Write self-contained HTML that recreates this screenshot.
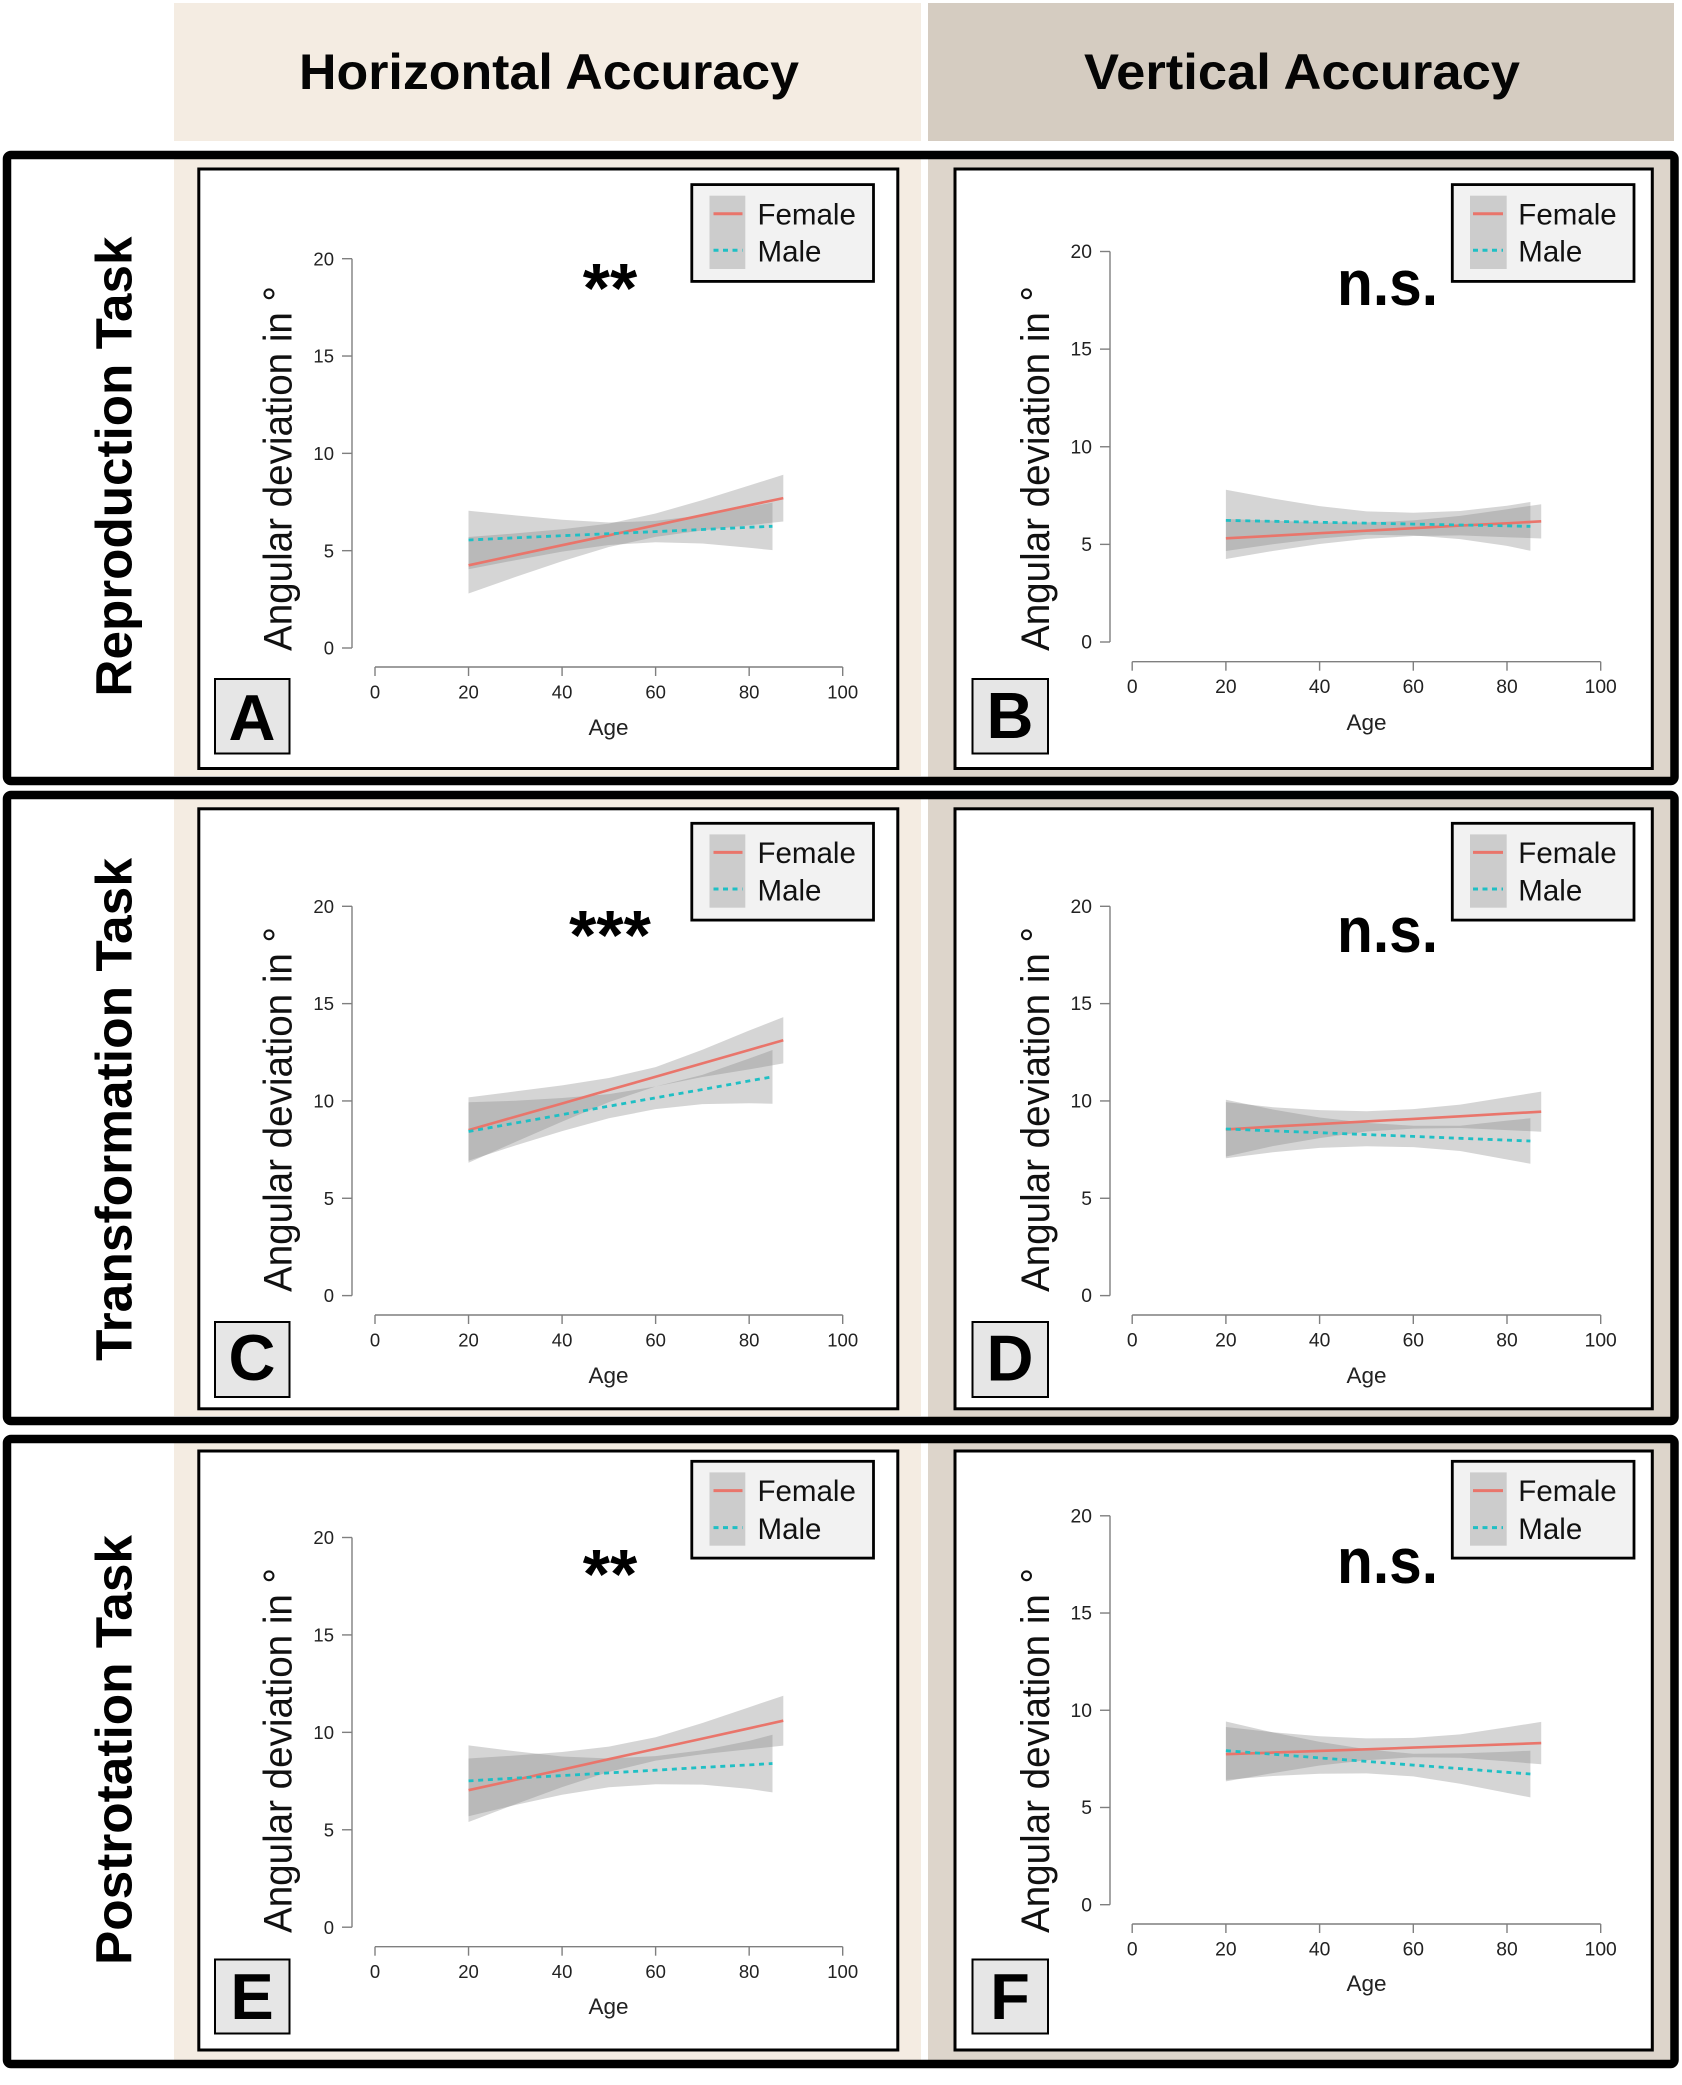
<!DOCTYPE html>
<html>
<head>
<meta charset="utf-8">
<title>Angular deviation by age and sex</title>
<style>
html,body{margin:0;padding:0;background:#fff;}
svg{display:block;font-family:"Liberation Sans",sans-serif;}
.hd{font-weight:700;font-size:50px;fill:#050505;}
.row{font-weight:700;font-size:51px;fill:#000;}
.yt{font-size:40px;fill:#111;}
.lg{font-size:29.5px;fill:#111;}
.ltr{font-weight:700;font-size:65px;fill:#000;text-anchor:middle;}
.ns{font-weight:700;font-size:64px;fill:#000;}
.st{font-weight:700;font-size:70px;fill:#000;text-anchor:middle;}
.age{font-size:22.5px;fill:#222;text-anchor:middle;}
</style>
</head>
<body>
<svg id="figure" xmlns="http://www.w3.org/2000/svg" width="1682" height="2085" viewBox="0 0 1682 2085">
  <rect width="1682" height="2085" fill="#fff"/>

  <rect x="174" y="3" width="747" height="138" fill="#F4ECE2"/>
  <rect x="928" y="3" width="746" height="138" fill="#D5CCC1"/>
  <text class="hd" x="299" y="89" textLength="500" lengthAdjust="spacingAndGlyphs">Horizontal Accuracy</text>
  <text class="hd" x="1084" y="89" textLength="436" lengthAdjust="spacingAndGlyphs">Vertical Accuracy</text>

  <rect x="174" y="159" width="747" height="617" fill="#F4ECE2"/>
  <rect x="928" y="159" width="744" height="619" fill="#DDD5CB"/>
  <rect x="174" y="799" width="747" height="617" fill="#F4ECE2"/>
  <rect x="928" y="799" width="744" height="619" fill="#DDD5CB"/>
  <rect x="174" y="1443" width="747" height="617" fill="#F4ECE2"/>
  <rect x="928" y="1443" width="744" height="618" fill="#DDD5CB"/>

  <rect x="7" y="155" width="1667.5" height="626" rx="4" fill="none" stroke="#000" stroke-width="8.5"/>
  <rect x="7" y="795" width="1667.5" height="626" rx="4" fill="none" stroke="#000" stroke-width="8.5"/>
  <rect x="7" y="1439" width="1667.5" height="625" rx="4" fill="none" stroke="#000" stroke-width="8.5"/>

  <text class="row" transform="translate(131.5,696.5) rotate(-90)" textLength="460" lengthAdjust="spacingAndGlyphs">Reproduction Task</text>
  <text class="row" transform="translate(131.5,1361) rotate(-90)" textLength="503" lengthAdjust="spacingAndGlyphs">Transformation Task</text>
  <text class="row" transform="translate(131.5,1965) rotate(-90)" textLength="430" lengthAdjust="spacingAndGlyphs">Postrotation Task</text>

  <!-- Panel A -->
  <g>
    <rect x="198.8" y="169" width="699" height="599.5" fill="#fff" stroke="#000" stroke-width="3"/>
    <g id="plot-a"></g>
    <g transform="translate(690.5,183.3)">
      <rect x="1.3" y="1.3" width="181.7" height="96.8" fill="#F2F2F2" stroke="#000" stroke-width="2.8"/>
      <rect x="19" y="12.4" width="35.8" height="73.3" fill="#CCCCCC"/>
      <line x1="23" x2="52" y1="30.4" y2="30.4" stroke="#E9756B" stroke-width="3"/>
      <line x1="23" x2="52" y1="67" y2="67" stroke="#1FBFC4" stroke-width="3" stroke-dasharray="5 4.5"/>
      <text class="lg" x="67" y="41">Female</text>
      <text class="lg" x="67" y="78.4">Male</text>
    </g>
    <text class="yt" transform="translate(291.7,651) rotate(-90)" textLength="365" lengthAdjust="spacingAndGlyphs">Angular deviation in °</text>
    <text class="age" x="608.5" y="735">Age</text>
    <text class="st" x="610" y="312">**</text>
    <rect x="215" y="679" width="74.5" height="74.5" fill="#E6E6E6" stroke="#000" stroke-width="2"/>
    <text class="ltr" x="252" y="740">A</text>
  </g>

  <!-- Panel B -->
  <g>
    <rect x="955" y="169" width="697.3" height="599.5" fill="#fff" stroke="#000" stroke-width="3"/>
    <g id="plot-b"></g>
    <g transform="translate(1451,183.3)">
      <rect x="1.3" y="1.3" width="181.7" height="96.8" fill="#F2F2F2" stroke="#000" stroke-width="2.8"/>
      <rect x="19" y="12.4" width="36.7" height="73.3" fill="#CCCCCC"/>
      <line x1="22" x2="52" y1="30.4" y2="30.4" stroke="#E9756B" stroke-width="3"/>
      <line x1="22" x2="52" y1="67" y2="67" stroke="#1FBFC4" stroke-width="3" stroke-dasharray="5 4.5"/>
      <text class="lg" x="67.3" y="41">Female</text>
      <text class="lg" x="67.3" y="78.4">Male</text>
    </g>
    <text class="yt" transform="translate(1049,651) rotate(-90)" textLength="365" lengthAdjust="spacingAndGlyphs">Angular deviation in °</text>
    <text class="age" x="1366.5" y="730">Age</text>
    <text class="ns" x="1337" y="305" textLength="101" lengthAdjust="spacingAndGlyphs">n.s.</text>
    <rect x="972.5" y="679" width="75.5" height="74.5" fill="#E6E6E6" stroke="#000" stroke-width="2"/>
    <text class="ltr" x="1010" y="738">B</text>
  </g>

  <!-- Panel C -->
  <g>
    <rect x="198.8" y="808.8" width="699" height="600" fill="#fff" stroke="#000" stroke-width="3"/>
    <g id="plot-c"></g>
    <g transform="translate(690.5,822)">
      <rect x="1.3" y="1.3" width="181.7" height="96.8" fill="#F2F2F2" stroke="#000" stroke-width="2.8"/>
      <rect x="19" y="12.4" width="35.8" height="73.3" fill="#CCCCCC"/>
      <line x1="23" x2="52" y1="30.4" y2="30.4" stroke="#E9756B" stroke-width="3"/>
      <line x1="23" x2="52" y1="67" y2="67" stroke="#1FBFC4" stroke-width="3" stroke-dasharray="5 4.5"/>
      <text class="lg" x="67" y="41">Female</text>
      <text class="lg" x="67" y="78.4">Male</text>
    </g>
    <text class="yt" transform="translate(291.7,1292) rotate(-90)" textLength="365" lengthAdjust="spacingAndGlyphs">Angular deviation in °</text>
    <text class="age" x="608.5" y="1383">Age</text>
    <text class="st" x="610" y="959">***</text>
    <rect x="215" y="1322" width="74.5" height="75" fill="#E6E6E6" stroke="#000" stroke-width="2"/>
    <text class="ltr" x="252" y="1380">C</text>
  </g>

  <!-- Panel D -->
  <g>
    <rect x="955" y="808.8" width="697.3" height="600" fill="#fff" stroke="#000" stroke-width="3"/>
    <g id="plot-d"></g>
    <g transform="translate(1451,822)">
      <rect x="1.3" y="1.3" width="181.7" height="96.8" fill="#F2F2F2" stroke="#000" stroke-width="2.8"/>
      <rect x="19" y="12.4" width="36.7" height="73.3" fill="#CCCCCC"/>
      <line x1="22" x2="52" y1="30.4" y2="30.4" stroke="#E9756B" stroke-width="3"/>
      <line x1="22" x2="52" y1="67" y2="67" stroke="#1FBFC4" stroke-width="3" stroke-dasharray="5 4.5"/>
      <text class="lg" x="67.3" y="41">Female</text>
      <text class="lg" x="67.3" y="78.4">Male</text>
    </g>
    <text class="yt" transform="translate(1049,1292) rotate(-90)" textLength="365" lengthAdjust="spacingAndGlyphs">Angular deviation in °</text>
    <text class="age" x="1366.5" y="1383">Age</text>
    <text class="ns" x="1337" y="952" textLength="101" lengthAdjust="spacingAndGlyphs">n.s.</text>
    <rect x="972.5" y="1322" width="75.5" height="75" fill="#E6E6E6" stroke="#000" stroke-width="2"/>
    <text class="ltr" x="1010" y="1380.5">D</text>
  </g>

  <!-- Panel E -->
  <g>
    <rect x="198.8" y="1451" width="699" height="599" fill="#fff" stroke="#000" stroke-width="3"/>
    <g id="plot-e"></g>
    <g transform="translate(690.5,1460)">
      <rect x="1.3" y="1.3" width="181.7" height="96.8" fill="#F2F2F2" stroke="#000" stroke-width="2.8"/>
      <rect x="19" y="12.4" width="35.8" height="73.3" fill="#CCCCCC"/>
      <line x1="23" x2="52" y1="30.6" y2="30.6" stroke="#E9756B" stroke-width="3"/>
      <line x1="23" x2="52" y1="67.6" y2="67.6" stroke="#1FBFC4" stroke-width="3" stroke-dasharray="5 4.5"/>
      <text class="lg" x="67" y="41">Female</text>
      <text class="lg" x="67" y="78.8">Male</text>
    </g>
    <text class="yt" transform="translate(291.7,1933) rotate(-90)" textLength="365" lengthAdjust="spacingAndGlyphs">Angular deviation in °</text>
    <text class="age" x="608.5" y="2014">Age</text>
    <text class="st" x="610" y="1598">**</text>
    <rect x="215" y="1959.5" width="74.5" height="74" fill="#E6E6E6" stroke="#000" stroke-width="2"/>
    <text class="ltr" x="252" y="2019">E</text>
  </g>

  <!-- Panel F -->
  <g>
    <rect x="955" y="1451" width="697.3" height="599" fill="#fff" stroke="#000" stroke-width="3"/>
    <g id="plot-f"></g>
    <g transform="translate(1451,1460)">
      <rect x="1.3" y="1.3" width="181.7" height="96.8" fill="#F2F2F2" stroke="#000" stroke-width="2.8"/>
      <rect x="19" y="12.4" width="36.7" height="73.3" fill="#CCCCCC"/>
      <line x1="22" x2="52" y1="30.6" y2="30.6" stroke="#E9756B" stroke-width="3"/>
      <line x1="22" x2="52" y1="67.6" y2="67.6" stroke="#1FBFC4" stroke-width="3" stroke-dasharray="5 4.5"/>
      <text class="lg" x="67.3" y="41">Female</text>
      <text class="lg" x="67.3" y="78.8">Male</text>
    </g>
    <text class="yt" transform="translate(1049,1933) rotate(-90)" textLength="365" lengthAdjust="spacingAndGlyphs">Angular deviation in °</text>
    <text class="age" x="1366.5" y="1991">Age</text>
    <text class="ns" x="1337" y="1583" textLength="101" lengthAdjust="spacingAndGlyphs">n.s.</text>
    <rect x="972.5" y="1959.5" width="75.5" height="74" fill="#E6E6E6" stroke="#000" stroke-width="2"/>
    <text class="ltr" x="1010" y="2019">F</text>
  </g>
</svg>

<script>
// Shared categories and tick labels
const femaleAges = [20, 30, 40, 50, 60, 70, 80, 87.3];
const maleAges = [20, 30, 40, 50, 60, 70, 80, 85];
const xTickValues = [0, 20, 40, 60, 80, 100];
const yTickValues = [0, 5, 10, 15, 20];

// Panel A values (degrees)
const aFemaleMean = [4.25, 4.77, 5.28, 5.79, 6.31, 6.82, 7.33, 7.7];
const aFemaleLower = [2.8, 3.65, 4.46, 5.19, 5.71, 6.04, 6.31, 6.5];
const aFemaleUpper = [5.7, 5.89, 6.1, 6.39, 6.91, 7.6, 8.35, 8.9];
const aMaleMean = [5.55, 5.66, 5.77, 5.87, 5.98, 6.09, 6.2, 6.25];
const aMaleLower = [4.05, 4.51, 4.95, 5.29, 5.43, 5.37, 5.15, 5.03];
const aMaleUpper = [7.05, 6.81, 6.59, 6.45, 6.53, 6.81, 7.25, 7.47];

// Panel B values
const bFemaleMean = [5.31, 5.44, 5.57, 5.7, 5.83, 5.96, 6.08, 6.18];
const bFemaleLower = [4.25, 4.66, 5.02, 5.28, 5.43, 5.46, 5.36, 5.3];
const bFemaleUpper = [6.3, 6.22, 6.12, 6.12, 6.23, 6.46, 6.8, 7.05];
const bMaleMean = [6.23, 6.18, 6.13, 6.09, 6.04, 5.99, 5.95, 5.92];
const bMaleLower = [4.66, 5.01, 5.3, 5.49, 5.46, 5.27, 4.92, 4.67];
const bMaleUpper = [7.8, 7.35, 6.96, 6.69, 6.62, 6.71, 6.98, 7.17];

// Panel C values
const cFemaleMean = [8.5, 9.19, 9.87, 10.56, 11.24, 11.93, 12.62, 13.12];
const cFemaleLower = [6.82, 7.89, 8.94, 9.94, 10.74, 11.23, 11.62, 11.93];
const cFemaleUpper = [10.18, 10.49, 10.8, 11.18, 11.74, 12.63, 13.62, 14.31];
const cMaleMean = [8.43, 8.86, 9.3, 9.73, 10.16, 10.59, 11.03, 11.24];
const cMaleLower = [6.93, 7.71, 8.45, 9.11, 9.58, 9.84, 9.88, 9.86];
const cMaleUpper = [9.93, 10.01, 10.15, 10.35, 10.74, 11.34, 12.18, 12.62];

// Panel D values
const dFemaleMean = [8.54, 8.68, 8.81, 8.95, 9.08, 9.21, 9.35, 9.45];
const dFemaleLower = [7.14, 7.68, 8.09, 8.43, 8.58, 8.61, 8.5, 8.42];
const dFemaleUpper = [9.94, 9.68, 9.53, 9.47, 9.58, 9.81, 10.2, 10.48];
const dMaleMean = [8.56, 8.46, 8.37, 8.27, 8.18, 8.08, 7.99, 7.94];
const dMaleLower = [7.06, 7.36, 7.59, 7.67, 7.63, 7.43, 6.99, 6.77];
const dMaleUpper = [10.06, 9.56, 9.15, 8.87, 8.73, 8.73, 8.99, 9.11];

// Panel E values
const eFemaleMean = [7.03, 7.56, 8.09, 8.62, 9.15, 9.68, 10.21, 10.6];
const eFemaleLower = [5.4, 6.31, 7.19, 7.97, 8.55, 8.88, 9.13, 9.32];
const eFemaleUpper = [8.66, 8.81, 8.99, 9.27, 9.75, 10.48, 11.29, 11.88];
const eMaleMean = [7.51, 7.65, 7.78, 7.92, 8.06, 8.2, 8.33, 8.4];
const eMaleLower = [5.69, 6.27, 6.8, 7.18, 7.34, 7.32, 7.1, 6.92];
const eMaleUpper = [9.33, 9.03, 8.76, 8.66, 8.78, 9.08, 9.56, 9.88];

// Panel F values
const fFemaleMean = [7.74, 7.82, 7.91, 7.99, 8.08, 8.16, 8.25, 8.31];
const fFemaleLower = [6.34, 6.77, 7.16, 7.43, 7.58, 7.56, 7.37, 7.22];
const fFemaleUpper = [9.14, 8.87, 8.66, 8.55, 8.58, 8.76, 9.13, 9.4];
const fMaleMean = [7.92, 7.74, 7.55, 7.37, 7.18, 7.0, 6.81, 6.72];
const fMaleLower = [6.42, 6.62, 6.73, 6.75, 6.6, 6.22, 5.75, 5.52];
const fMaleUpper = [9.42, 8.86, 8.37, 7.99, 7.76, 7.78, 7.87, 7.92];

const SVG_NS = 'http://www.w3.org/2000/svg';

function make(parent, tag, attrs) {
  const el = document.createElementNS(SVG_NS, tag);
  for (const k in attrs) el.setAttribute(k, attrs[k]);
  parent.appendChild(el);
  return el;
}

function bandPoints(ages, lower, upper, sx, sy) {
  const top = ages.map((a, i) => sx(a).toFixed(1) + ',' + sy(upper[i]).toFixed(1));
  const bottom = ages.map((a, i) => sx(a).toFixed(1) + ',' + sy(lower[i]).toFixed(1)).reverse();
  return top.concat(bottom).join(' ');
}

function linePoints(ages, values, sx, sy) {
  return ages.map((a, i) => sx(a).toFixed(1) + ',' + sy(values[i]).toFixed(1)).join(' ');
}

function drawPanel(id, frame, d) {
  const g = document.getElementById('plot-' + id);
  const sx = a => frame.x0 + (a / 100) * (frame.x100 - frame.x0);
  const sy = v => frame.y0 + (v / 20) * (frame.y20 - frame.y0);
  const axisColor = '#7F7F7F';

  const yLine = make(g, 'line', {x1: frame.yAxisX, x2: frame.yAxisX, y1: sy(0), y2: sy(20), stroke: axisColor, 'stroke-width': 1.4});
  
  

  yTickValues.forEach(v => {
    const t = make(g, 'line', {x1: frame.yAxisX - 10, x2: frame.yAxisX, y1: sy(v), y2: sy(v), stroke: axisColor, 'stroke-width': 1.4});
    
    
    const l = make(g, 'text', {x: frame.yAxisX - 18, y: sy(v) + 6.6, 'text-anchor': 'end', 'font-size': frame.tickSize, fill: '#222'});
    
    
    l.textContent = v;
  });

  const xLine = make(g, 'line', {x1: sx(0), x2: sx(100), y1: frame.xAxisY, y2: frame.xAxisY, stroke: axisColor, 'stroke-width': 1.4});
  
  

  xTickValues.forEach(v => {
    const t = make(g, 'line', {x1: sx(v), x2: sx(v), y1: frame.xAxisY, y2: frame.xAxisY + 9, stroke: axisColor, 'stroke-width': 1.4});
    
    
    const l = make(g, 'text', {x: sx(v), y: frame.xAxisY + 31.3, 'text-anchor': 'middle', 'font-size': frame.tickSize, fill: '#222'});
    
    
    l.textContent = v;
  });

  const fb = make(g, 'polygon', {points: bandPoints(femaleAges, d.fl, d.fu, sx, sy), fill: '#808080', 'fill-opacity': 0.33});
  
  

  const mb = make(g, 'polygon', {points: bandPoints(maleAges, d.ml, d.mu, sx, sy), fill: '#808080', 'fill-opacity': 0.33});
  
  

  const fl = make(g, 'polyline', {points: linePoints(femaleAges, d.fm, sx, sy), fill: 'none', stroke: '#E9756B', 'stroke-width': 2.6});
  
  

  const ml = make(g, 'polyline', {points: linePoints(maleAges, d.mm, sx, sy), fill: 'none', stroke: '#1FBFC4', 'stroke-width': 2.8, 'stroke-dasharray': '5 4.7'});
  
  
}

drawPanel('a', {x0: 375, x100: 842.7, yAxisX: 352, y0: 648, y20: 258.7, xAxisY: 667, tickSize: 18.5},
  {fm: aFemaleMean, fl: aFemaleLower, fu: aFemaleUpper, mm: aMaleMean, ml: aMaleLower, mu: aMaleUpper});
drawPanel('b', {x0: 1132.2, x100: 1600.7, yAxisX: 1110, y0: 642, y20: 251.5, xAxisY: 661.7, tickSize: 19.3},
  {fm: bFemaleMean, fl: bFemaleLower, fu: bFemaleUpper, mm: bMaleMean, ml: bMaleLower, mu: bMaleUpper});
drawPanel('c', {x0: 375, x100: 842.7, yAxisX: 352, y0: 1295.6, y20: 906.3, xAxisY: 1315, tickSize: 18.5},
  {fm: cFemaleMean, fl: cFemaleLower, fu: cFemaleUpper, mm: cMaleMean, ml: cMaleLower, mu: cMaleUpper});
drawPanel('d', {x0: 1132.2, x100: 1600.7, yAxisX: 1110, y0: 1295.6, y20: 906.3, xAxisY: 1315, tickSize: 19.3},
  {fm: dFemaleMean, fl: dFemaleLower, fu: dFemaleUpper, mm: dMaleMean, ml: dMaleLower, mu: dMaleUpper});
drawPanel('e', {x0: 375, x100: 842.7, yAxisX: 352, y0: 1927.2, y20: 1537.5, xAxisY: 1946.7, tickSize: 18.5},
  {fm: eFemaleMean, fl: eFemaleLower, fu: eFemaleUpper, mm: eMaleMean, ml: eMaleLower, mu: eMaleUpper});
drawPanel('f', {x0: 1132.2, x100: 1600.7, yAxisX: 1110, y0: 1904.7, y20: 1515.8, xAxisY: 1924, tickSize: 19.3},
  {fm: fFemaleMean, fl: fFemaleLower, fu: fFemaleUpper, mm: fMaleMean, ml: fMaleLower, mu: fMaleUpper});
</script>
</body>
</html>
